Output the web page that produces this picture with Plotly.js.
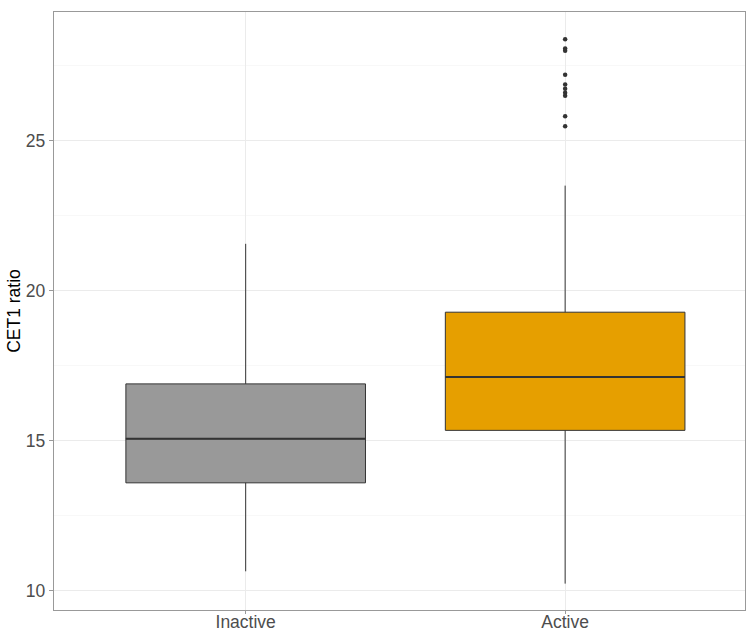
<!DOCTYPE html>
<html>
<head>
<meta charset="utf-8">
<script src="https://cdn.plot.ly/plotly-3.0.1.min.js"></script>
<style>html,body{margin:0;padding:0;background:#fff;overflow:hidden;}</style>
</head>
<body>
<div id="chart" style="width:746px;height:631px;"></div>
<script>
const categories = ['Inactive', 'Active'];
const q1 = [13.59, 15.34];
const median = [15.06, 17.12];
const q3 = [16.89, 19.28];
const lowerWhisker = [10.64, 10.23];
const upperWhisker = [21.56, 23.5];
const fillColors = ['#999999', '#E69F00'];
const outlierValues = [28.38, 28.07, 28.0, 27.2, 26.87, 26.73, 26.6, 26.5, 25.81, 25.48];
const outlierCategory = 'Active';
const boxWidth = 0.75;

const traces = categories.map((c, i) => ({
  type: 'box',
  x: [c],
  q1: [q1[i]],
  median: [median[i]],
  q3: [q3[i]],
  lowerfence: [lowerWhisker[i]],
  upperfence: [upperWhisker[i]],
  width: boxWidth,
  whiskerwidth: 0,
  fillcolor: fillColors[i],
  line: {color: '#333333', width: 1},
  boxpoints: false,
  hoverinfo: 'skip',
  showlegend: false
}));
traces.push({
  type: 'scatter',
  mode: 'markers',
  x: outlierValues.map(() => outlierCategory),
  y: outlierValues,
  marker: {color: '#333333', size: 4.5},
  hoverinfo: 'skip',
  showlegend: false
});

// thicker median line as in ggplot
const medianShapes = median.map((m, i) => ({
  type: 'line', xref: 'x', yref: 'y',
  x0: i - boxWidth / 2, x1: i + boxWidth / 2, y0: m, y1: m,
  line: {color: '#333333', width: 2}
}));

const layout = {
  width: 746, height: 631,
  margin: {l: 54, r: 1, t: 12, b: 21},
  paper_bgcolor: '#ffffff',
  plot_bgcolor: '#ffffff',
  boxmode: 'overlay',
  shapes: medianShapes,
  font: {family: 'Liberation Sans, Arial, sans-serif'},
  xaxis: {
    type: 'category',
    categoryorder: 'array',
    categoryarray: categories,
    range: [-0.6, 1.563],
    showgrid: true, gridcolor: '#ebebeb', gridwidth: 1,
    showline: true, linecolor: '#999999', linewidth: 1.2, mirror: true,
    ticks: 'outside', ticklen: 3, tickcolor: '#999999',
    ticklabelstandoff: -7,
    tickfont: {size: 17.5, color: '#4d4d4d'},
    zeroline: false
  },
  yaxis: {
    range: [9.35, 29.29],
    tickvals: [10, 15, 20, 25],
    showgrid: true, gridcolor: '#ebebeb', gridwidth: 1,
    minor: {dtick: 2.5, tick0: 0, showgrid: true, gridcolor: '#f4f4f4', gridwidth: 0.6, ticks: ''},
    showline: true, linecolor: '#999999', linewidth: 1.2, mirror: true,
    ticks: 'outside', ticklen: 4, tickcolor: '#999999',
    tickfont: {size: 17.5, color: '#4d4d4d'},
    zeroline: false,
    title: {text: 'CET1 ratio', font: {size: 17.5, color: '#000000'}, standoff: 0}
  }
};

Plotly.newPlot('chart', traces, layout, {displayModeBar: false, staticPlot: true});
</script>
</body>
</html>
